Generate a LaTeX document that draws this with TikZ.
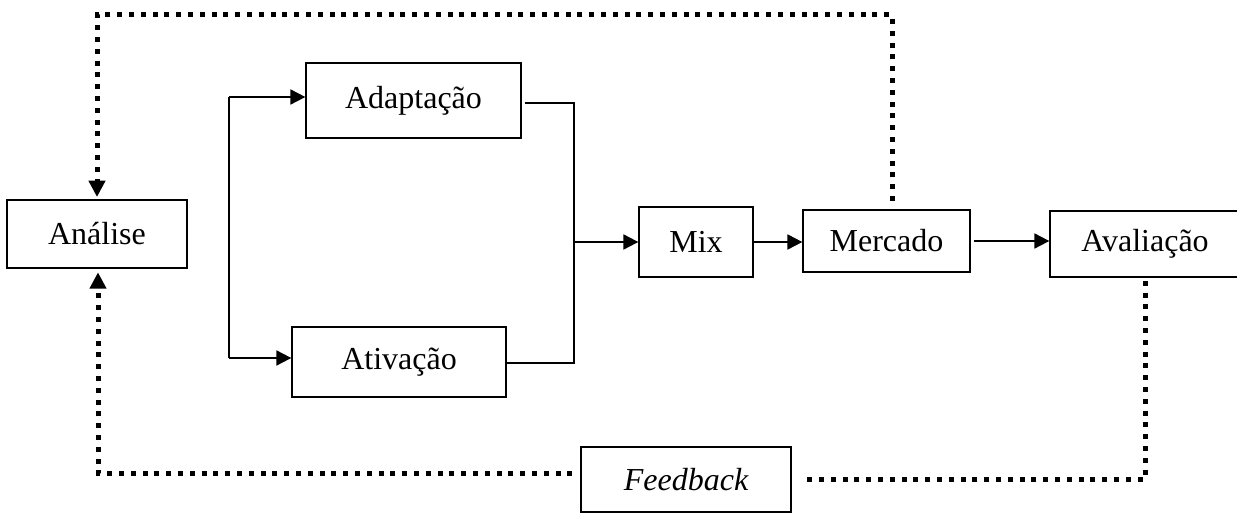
\documentclass[tikz,border=0pt]{standalone}
\usepackage{fontspec}
\setmainfont{Liberation Serif}
\usetikzlibrary{arrows.meta}
\begin{document}
\begin{tikzpicture}[x=0.375pt,y=-0.375pt,
  box/.style={draw,line width=0.5pt,inner sep=0pt,font=\fontsize{12pt}{14pt}\selectfont},
  conn/.style={line width=0.75pt},
  arr/.style={conn,-{Triangle[length=5.6pt,width=5.6pt]}},
  dots/.style={line width=1.875pt,dash pattern=on 1.875pt off 2.55pt},
  dotarr/.style={dots,-{Triangle[length=6pt,width=6.5pt,line width=0pt]}}]
\useasboundingbox (0,0) rectangle (1237,515);
% boxes
\node[box,minimum width=67.5pt,minimum height=25.5pt] (ana) at (97,234) {Análise};
\node[box,minimum width=80.6pt,minimum height=28.1pt] (ada) at (413.5,100.5) {Adaptação};
\node[box,minimum width=80.25pt,minimum height=26.25pt] (ati) at (399,362) {Ativação};
\node[box,minimum width=42.75pt,minimum height=26.25pt] (mix) at (696,242) {Mix};
\node[box,minimum width=62.6pt,minimum height=23.25pt] (mer) at (886.5,241) {Mercado};
\node[box,minimum width=71.25pt,minimum height=24.75pt] (ava) at (1145,244) {Avaliação};
\node[box,minimum width=78.75pt,minimum height=24.4pt] (fb) at (686,479.5) {\itshape Feedback};
% solid connectors
\coordinate (s1) at (229,97);
\coordinate (s2) at (229,358);
\draw[conn] (s1) -- (s2);
\draw[arr] (s1) -- (s1 -| ada.west);
\draw[arr] (s2) -- (s2 -| ati.west);
\coordinate (m1) at (574,103);
\coordinate (m2) at (574,363);
\coordinate (m3) at (574,242);
\draw[conn] ([xshift=1.1pt]ada.east |- m1) -- (m1) -- (m2) -- (ati.east |- m2);
\draw[arr] (m3) -- (mix.west);
\draw[arr] (mix.east) -- (mix.east -| mer.west);
\draw[arr] ([xshift=1.1pt]mer.east) -- (mer.east -| ava.west);
% dotted feedback loops
\coordinate (tS) at (892,201);
\coordinate (tC) at (892,15);
\draw[dotarr,shorten >=1pt] (tS) -- (tC) -| (ana.north);
\coordinate (bR) at (1145,479);
\draw[dots] ([yshift=-1.2pt]ava.south) -- (bR) -- ([xshift=3.4pt]fb.east |- bR);
\coordinate (bL) at (98,473);
\draw[dotarr,shorten >=1.5pt] ([xshift=-3pt]fb.west |- bL) -- (bL) -- (bL |- ana.south);
\end{tikzpicture}
\end{document}
